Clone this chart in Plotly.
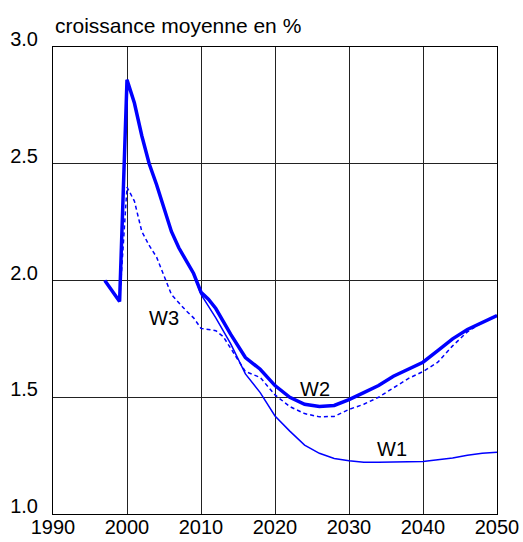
import plotly.graph_objects as go

w2_years = [1997, 1999, 2000, 2001, 2002, 2003, 2004, 2006, 2007, 2009, 2010, 2011, 2012, 2014, 2016, 2018,
            2020, 2022, 2024, 2026, 2028, 2030, 2032, 2034, 2036, 2038, 2040, 2042, 2044, 2046, 2048, 2050]
w2_values = [2.00, 1.91, 2.86, 2.76, 2.62, 2.50, 2.41, 2.21, 2.14, 2.03, 1.95, 1.92, 1.88, 1.77, 1.67, 1.62,
             1.55, 1.50, 1.47, 1.46, 1.465, 1.49, 1.52, 1.55, 1.59, 1.62, 1.65, 1.70, 1.75, 1.79, 1.82, 1.85]

w1_years = [1997, 1999, 2000, 2001, 2002, 2003, 2004, 2006, 2007, 2009, 2010, 2011, 2012, 2014, 2016, 2018,
            2020, 2022, 2024, 2026, 2028, 2030, 2032, 2034, 2036, 2038, 2040, 2042, 2044, 2046, 2048, 2050]
w1_values = [2.00, 1.91, 2.86, 2.76, 2.62, 2.50, 2.41, 2.21, 2.14, 2.03, 1.94, 1.89, 1.84, 1.73, 1.60, 1.52,
             1.42, 1.355, 1.295, 1.26, 1.238, 1.228, 1.222, 1.222, 1.224, 1.225, 1.225, 1.232, 1.24, 1.252, 1.26, 1.264]

w3_years = [1997, 1999, 2000, 2001, 2002, 2003, 2004, 2005, 2006, 2008, 2009, 2010, 2012, 2013, 2015, 2016,
            2018, 2020, 2022, 2024, 2026, 2028, 2030, 2032, 2034, 2036, 2038, 2040, 2042, 2044, 2046, 2048, 2050]
w3_values = [2.00, 1.91, 2.40, 2.34, 2.21, 2.15, 2.10, 2.02, 1.94, 1.87, 1.84, 1.795, 1.785, 1.76, 1.66, 1.61,
             1.585, 1.51, 1.46, 1.43, 1.416, 1.418, 1.448, 1.47, 1.50, 1.54, 1.58, 1.61, 1.65, 1.72, 1.78, 1.82, 1.85]

labels = ["W3", "W2", "W1"]
label_x = [2005.0, 2025.4, 2035.8]
label_y = [1.84, 1.535, 1.278]

x_ticks = [1990, 2000, 2010, 2020, 2030, 2040, 2050]
y_ticks = [1.0, 1.5, 2.0, 2.5, 3.0]

BLUE = "#0000FF"
FONT = "Liberation Sans, Arial, sans-serif"

fig = go.Figure()
fig.add_trace(go.Scatter(x=w1_years, y=w1_values, mode="lines",
                         line=dict(color=BLUE, width=1.5), showlegend=False))
fig.add_trace(go.Scatter(x=w3_years, y=w3_values, mode="lines",
                         line=dict(color=BLUE, width=1.5, dash="4px,3px"), showlegend=False))
fig.add_trace(go.Scatter(x=w2_years, y=w2_values, mode="lines",
                         line=dict(color=BLUE, width=3.5), showlegend=False))

for t, x, y in zip(labels, label_x, label_y):
    fig.add_annotation(x=x, y=y, text=t, showarrow=False,
                       font=dict(family=FONT, size=20, color="black"))

fig.add_annotation(x=0, xref="paper", y=1, yref="paper", yshift=22, text="croissance moyenne en %",
                   showarrow=False, xanchor="left", yanchor="middle",
                   font=dict(family=FONT, size=21, color="black"))

fig.update_layout(
    width=523, height=542,
    margin=dict(l=53, r=26, t=47, b=28),
    paper_bgcolor="white", plot_bgcolor="white",
    font=dict(family=FONT, size=20, color="black"),
    xaxis=dict(range=[1990, 2050], tickvals=x_ticks, ticktext=[str(v) for v in x_ticks],
               showgrid=True, gridcolor="#222", gridwidth=1, zeroline=False,
               showline=True, linecolor="black", linewidth=1, mirror=True,
               ticks="", ticklabelstandoff=-5, automargin=False),
    yaxis=dict(range=[1.0, 3.0], tickvals=y_ticks, ticktext=[f"{v:.1f}" for v in y_ticks],
               showgrid=True, gridcolor="#222", gridwidth=1, zeroline=False,
               showline=True, linecolor="black", linewidth=1, mirror=True,
               ticks="", ticklabelstandoff=10, ticklabelshift=-8, automargin=False),
)

fig.write_html("out.html", config={"displayModeBar": False},
               post_script="document.body.style.margin='0';document.body.style.overflow='hidden';")
